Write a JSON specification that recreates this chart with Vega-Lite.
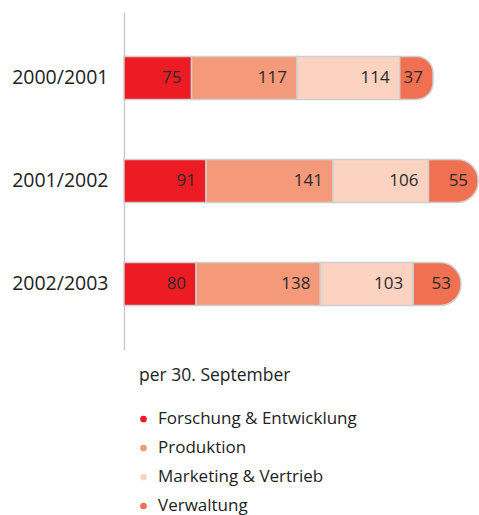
{
  "$schema": "https://vega.github.io/schema/vega-lite/v6.json",
  "width": 355,
  "height": 338,
  "autosize": {"type": "none"},
  "padding": {"left": 124, "top": 12, "right": 0, "bottom": 165},
  "background": "white",
  "config": {
    "view": {"stroke": null},
    "font": "Open Sans"
  },
  "data": {
    "values": [
      {"jahr": "2000/2001", "bereich": "Forschung & Entwicklung", "k": 1, "wert": 75},
      {"jahr": "2000/2001", "bereich": "Produktion", "k": 2, "wert": 117},
      {"jahr": "2000/2001", "bereich": "Marketing & Vertrieb", "k": 3, "wert": 114},
      {"jahr": "2000/2001", "bereich": "Verwaltung", "k": 4, "wert": 37},
      {"jahr": "2001/2002", "bereich": "Forschung & Entwicklung", "k": 1, "wert": 91},
      {"jahr": "2001/2002", "bereich": "Produktion", "k": 2, "wert": 141},
      {"jahr": "2001/2002", "bereich": "Marketing & Vertrieb", "k": 3, "wert": 106},
      {"jahr": "2001/2002", "bereich": "Verwaltung", "k": 4, "wert": 55},
      {"jahr": "2002/2003", "bereich": "Forschung & Entwicklung", "k": 1, "wert": 80},
      {"jahr": "2002/2003", "bereich": "Produktion", "k": 2, "wert": 138},
      {"jahr": "2002/2003", "bereich": "Marketing & Vertrieb", "k": 3, "wert": 103},
      {"jahr": "2002/2003", "bereich": "Verwaltung", "k": 4, "wert": 53}
    ]
  },
  "transform": [
    {"stack": "wert", "groupby": ["jahr"], "sort": [{"field": "k", "order": "ascending"}], "as": ["start", "end"]}
  ],
  "encoding": {
    "y": {
      "field": "jahr",
      "type": "nominal",
      "scale": {"paddingInner": 0, "paddingOuter": 0.14},
      "axis": {
        "title": null,
        "ticks": false,
        "domainColor": "#cccccc",
        "domainWidth": 1.5,
        "labelFontSize": 19.5,
        "labelColor": "#222222",
        "labelPadding": 16,
        "labelFont": "Open Sans"
      }
    }
  },
  "layer": [
    {
      "transform": [{"filter": "datum.k < 4"}],
      "mark": {"type": "bar", "size": 43, "stroke": "#cfcfcf", "strokeWidth": 1.5},
      "encoding": {
        "x": {"field": "start", "type": "quantitative", "scale": {"domain": [0, 394], "nice": false}, "axis": null},
        "x2": {"field": "end"},
        "color": {
          "field": "bereich",
          "type": "nominal",
          "scale": {
            "domain": ["Forschung & Entwicklung", "Produktion", "Marketing & Vertrieb", "Verwaltung"],
            "range": ["#ED1C24", "#F4997A", "#FCD2C0", "#F07052"]
          },
          "legend": {
            "title": "per 30. September",
            "orient": "none",
            "legendX": 15,
            "legendY": 355,
            "padding": 0,
            "titleFont": "Open Sans",
            "titleFontSize": 17.5,
            "titleFontWeight": "normal",
            "titleColor": "#222222",
            "titlePadding": 26,
            "labelFont": "Open Sans",
            "labelFontSize": 17,
            "labelColor": "#222222",
            "labelOffset": 6,
            "labelLimit": 0,
            "symbolOffset": -4,
            "symbolType": "circle",
            "symbolSize": 45,
            "symbolStrokeWidth": 0,
            "rowPadding": 11,
            "direction": "vertical"
          }
        }
      }
    },
    {
      "transform": [{"filter": "datum.k == 4"}],
      "mark": {"type": "bar", "size": 43, "stroke": "#cfcfcf", "strokeWidth": 1.5, "cornerRadiusTopRight": 21, "cornerRadiusBottomRight": 21},
      "encoding": {
        "x": {"field": "start", "type": "quantitative"},
        "x2": {"field": "end"},
        "color": {"field": "bereich", "type": "nominal"}
      }
    },
    {
      "mark": {"type": "text", "align": "right", "baseline": "middle", "dx": -10, "fontSize": 17, "color": "#2a2a2a", "font": "Open Sans"},
      "encoding": {
        "x": {"field": "end", "type": "quantitative"},
        "text": {"field": "wert", "type": "quantitative"}
      }
    }
  ]
}
